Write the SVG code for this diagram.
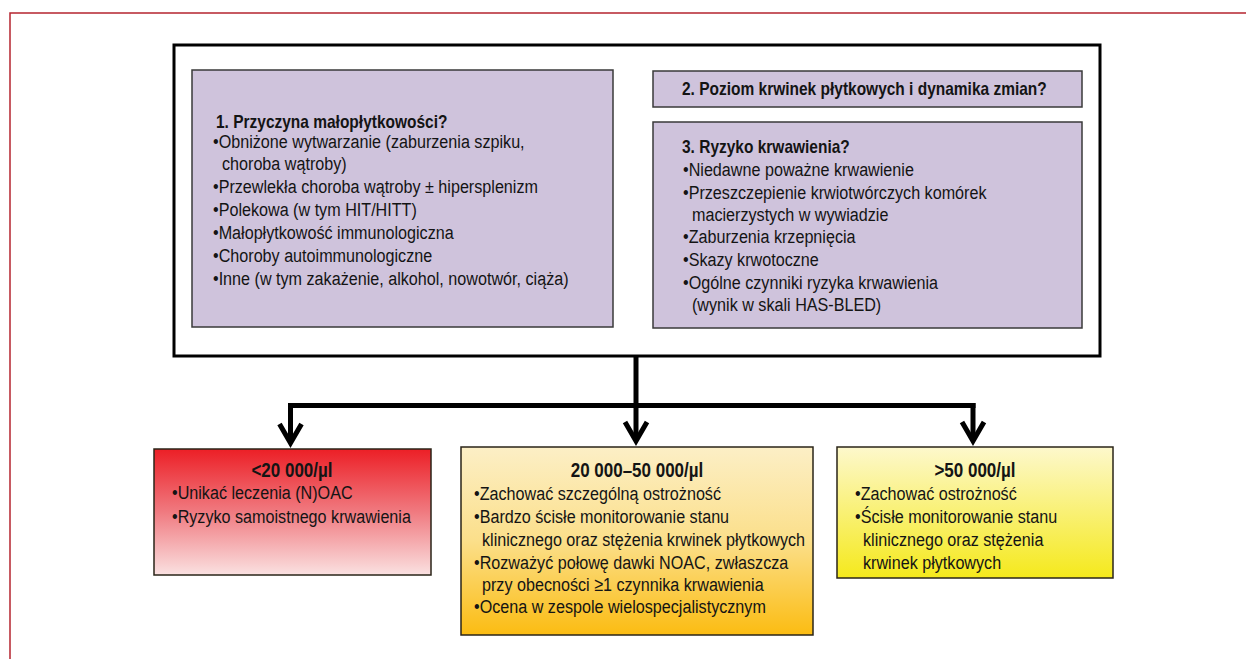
<svg xmlns="http://www.w3.org/2000/svg" width="1246" height="659" viewBox="0 0 1246 659">
  <defs>
    <linearGradient id="gRed" x1="0" y1="0" x2="0" y2="1">
      <stop offset="0" stop-color="#ec1f26"/>
      <stop offset="0.5" stop-color="#f07a80"/>
      <stop offset="1" stop-color="#fae1e1"/>
    </linearGradient>
    <linearGradient id="gOrange" x1="0" y1="0" x2="0" y2="1">
      <stop offset="0" stop-color="#fcefc6"/>
      <stop offset="0.5" stop-color="#fbdf8a"/>
      <stop offset="1" stop-color="#fbbc12"/>
    </linearGradient>
    <linearGradient id="gYellow" x1="0" y1="0" x2="0" y2="1">
      <stop offset="0" stop-color="#fdf8cc"/>
      <stop offset="1" stop-color="#f5e91c"/>
    </linearGradient>
    <!-- open chevron arrowhead, drawn along +x so orient="auto" points it down the line -->
    <marker id="chev" markerUnits="userSpaceOnUse" viewBox="-4 -4 32 32" refX="19" refY="12" markerWidth="32" markerHeight="32" orient="auto" overflow="visible">
      <path d="M0 1 L19 12 L0 23" fill="none" stroke="#000" stroke-width="5" stroke-linejoin="miter"/>
    </marker>
    <style>
      text { font-family: "Liberation Sans", Arial, sans-serif; font-size: 19px; fill: #141414;
             transform-box: fill-box; transform-origin: 0 0; transform: scaleX(0.85); }
      .b { font-weight: bold; transform: scaleX(0.815); }
      .c { text-anchor: middle; font-size: 20px; transform-origin: 50% 0; transform: scaleX(0.85); }
      .q { fill: #cfc3dc; stroke: #3a3a3a; stroke-width: 1.5; }
      .res { stroke: #2a2418; stroke-width: 1.5; }
      .conn { fill: none; stroke: #000; stroke-width: 5; }
    </style>
  </defs>

  <rect width="1246" height="659" fill="#fff"/>
  <!-- page frame -->
  <rect x="10" y="13" width="1300" height="700" fill="none" stroke="#b5252f" stroke-width="1.5"/>

  <!-- outer assessment box -->
  <g id="assessment">
    <rect x="174" y="45" width="926" height="311" fill="#fff" stroke="#000" stroke-width="3"/>
  </g>

  <g id="q1">
    <rect class="q" x="192" y="70" width="421" height="257"/>
    <text class="b" x="216" y="128">1. Przyczyna małopłytkowości?</text>
    <text x="213" y="148">•Obniżone wytwarzanie (zaburzenia szpiku,</text>
    <text x="222" y="170">choroba wątroby)</text>
    <text x="213" y="193">•Przewlekła choroba wątroby ± hipersplenizm</text>
    <text x="213" y="216">•Polekowa (w tym HIT/HITT)</text>
    <text x="213" y="239">•Małopłytkowość immunologiczna</text>
    <text x="213" y="262">•Choroby autoimmunologiczne</text>
    <text x="213" y="285">•Inne (w tym zakażenie, alkohol, nowotwór, ciąża)</text>
  </g>

  <g id="q2">
    <rect class="q" x="653" y="71" width="429" height="36"/>
    <text class="b" x="682" y="95">2. Poziom krwinek płytkowych i dynamika zmian?</text>
  </g>

  <g id="q3">
    <rect class="q" x="653" y="122" width="429" height="206"/>
    <text class="b" x="682" y="153">3. Ryzyko krwawienia?</text>
    <text x="683" y="176">•Niedawne poważne krwawienie</text>
    <text x="683" y="199">•Przeszczepienie krwiotwórczych komórek</text>
    <text x="692" y="221">macierzystych w wywiadzie</text>
    <text x="683" y="243">•Zaburzenia krzepnięcia</text>
    <text x="683" y="266">•Skazy krwotoczne</text>
    <text x="683" y="289">•Ogólne czynniki ryzyka krwawienia</text>
    <text x="692" y="311">(wynik w skali HAS-BLED)</text>
  </g>

  <!-- branches to the platelet-count ranges -->
  <g id="connectors">
    <path class="conn" d="M636 356 V407"/>
    <path class="conn" d="M288 405.5 H975.5"/>
    <path class="conn" d="M290.5 403 V443" marker-end="url(#chev)"/>
    <path class="conn" d="M636 403 V441" marker-end="url(#chev)"/>
    <path class="conn" d="M973 403 V441" marker-end="url(#chev)"/>
  </g>

  <g id="low">
    <rect class="res" x="154" y="449" width="277" height="126" fill="url(#gRed)"/>
    <text class="b c" x="292" y="477">&lt;20 000/µl</text>
    <text x="172" y="499">•Unikać leczenia (N)OAC</text>
    <text x="172" y="523">•Ryzyko samoistnego krwawienia</text>
  </g>

  <g id="mid">
    <rect class="res" x="461" y="447" width="352" height="188" fill="url(#gOrange)"/>
    <text class="b c" x="637" y="477">20 000–50 000/µl</text>
    <text x="474" y="500">•Zachować szczególną ostrożność</text>
    <text x="474" y="523">•Bardzo ścisłe monitorowanie stanu</text>
    <text x="482" y="546">klinicznego oraz stężenia krwinek płytkowych</text>
    <text x="474" y="569">•Rozważyć połowę dawki NOAC, zwłaszcza</text>
    <text x="482" y="591">przy obecności ≥1 czynnika krwawienia</text>
    <text x="474" y="613">•Ocena w zespole wielospecjalistycznym</text>
  </g>

  <g id="high">
    <rect class="res" x="837" y="447" width="276" height="131" fill="url(#gYellow)"/>
    <text class="b c" x="975" y="477">&gt;50 000/µl</text>
    <text x="855" y="500">•Zachować ostrożność</text>
    <text x="855" y="523">•Ścisłe monitorowanie stanu</text>
    <text x="863" y="546">klinicznego oraz stężenia</text>
    <text x="863" y="569">krwinek płytkowych</text>
  </g>
</svg>
